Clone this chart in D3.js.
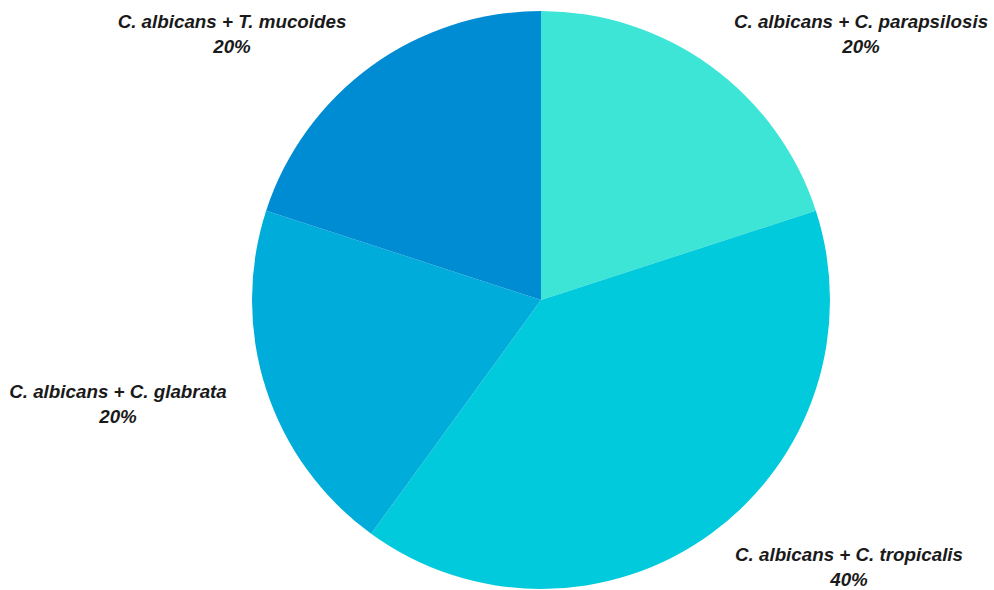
<!DOCTYPE html>
<html lang="en">
<head>
<meta charset="UTF-8">
<title>Pie Chart</title>
<script src="https://d3js.org/d3.v7.min.js"></script>
<style>
  body { margin: 0; background: #fff; font-family: "Liberation Sans", Arial, sans-serif; }
  .lbl { font-size: 18.8px; font-weight: bold; font-style: italic; fill: #1a1a1a; }
</style>
</head>
<body>
<div id="chart"></div>
<script>
// data
var categories = ["C. albicans + C. parapsilosis", "C. albicans + C. tropicalis",
                  "C. albicans + C. glabrata", "C. albicans + T. mucoides"];
var values = [20, 40, 20, 20];
var colors = ["#3de5d6", "#00cadc", "#00acd9", "#008cd3"];

var width = 994, height = 590;
var cx = 541, cy = 300, radius = 289;

// label anchor spots (centre of the first label line)
var labelSpots = [[861, 21], [849, 554], [118, 391], [232, 21]];
var lineGap = 25.5;

var svg = d3.select("#chart").append("svg")
    .attr("width", width).attr("height", height);

var g = svg.append("g").attr("transform", "translate(" + cx + "," + cy + ")");

var pie = d3.pie().sort(null).value(function(d) { return d; });
var arc = d3.arc().innerRadius(0).outerRadius(radius);

g.selectAll("path")
  .data(pie(values))
  .enter().append("path")
    .attr("d", arc)
    .attr("fill", function(d, i) { return colors[i]; });

var total = d3.sum(values);
var labels = svg.selectAll(".lab")
  .data(categories)
  .enter().append("text")
    .attr("class", "lbl")
    .attr("text-anchor", "middle")
    .attr("x", function(d, i) { return labelSpots[i][0]; })
    .attr("y", function(d, i) { return labelSpots[i][1]; });

labels.append("tspan")
    .attr("x", function(d, i) { return labelSpots[i][0]; })
    .attr("dy", "0.35em")
    .text(function(d) { return d; });
labels.append("tspan")
    .attr("x", function(d, i) { return labelSpots[i][0]; })
    .attr("dy", lineGap + "px")
    .text(function(d, i) { return Math.round(values[i] / total * 100) + "%"; });
</script>
</body>
</html>
